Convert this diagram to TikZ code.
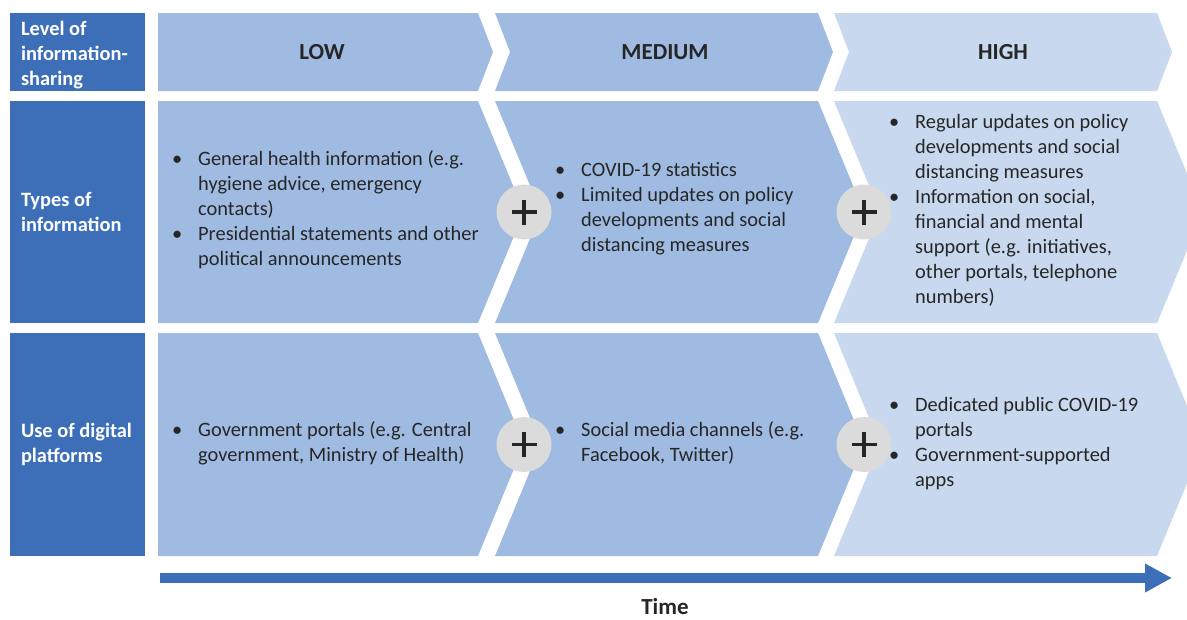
\documentclass[tikz,border=0pt]{standalone}
\usepackage{fontspec}
\setmainfont{Carlito}
\usetikzlibrary{arrows.meta}

\definecolor{cdark}{RGB}{61,111,185}
\definecolor{cmid}{RGB}{160,187,226}
\definecolor{clight}{RGB}{200,216,238}
\definecolor{cgrey}{RGB}{218,219,218}
\definecolor{ctext}{RGB}{38,38,38}

\newcommand{\blist}[1]{\begin{tabular}{@{}p{26pt}@{}l@{}}#1\end{tabular}}

\begin{document}
\begin{tikzpicture}[x=1pt,y=-1pt,
        hdr/.style={rectangle,fill=cdark,minimum width=135pt,inner sep=0pt},
        hdrtxt/.style={anchor=west,text=white,font=\fontsize{20.4}{25}\selectfont\bfseries,
          inner sep=0pt,align=left},
        lvl/.style={font=\fontsize{23}{28}\selectfont\bfseries,text=ctext,inner sep=0pt},
        txt/.style={anchor=west,font=\fontsize{20.4}{25}\selectfont,text=ctext,inner sep=0pt},
        pls/.style={circle,fill=cgrey,minimum size=55pt,inner sep=0pt},
        crs/.style={line width=3.6pt,draw=ctext}]
      \useasboundingbox (0,0) rectangle (1187,619);
      \clip (0,0) rectangle (1187,619);
      % chevrons, one row at a time
      \foreach \t/\b/\d in {13/91/15, 101/323/46, 333/556/46} {
        \fill[cmid] (158,\t) -- (478,\t) -- (478+\d,{(\t+\b)/2}) -- (478,\b) -- (158,\b) -- cycle;
        \foreach \xa/\xb/\c in {495/818/cmid, 834/1157/clight}
          \fill[\c] (\xa,\t) -- (\xb,\t) -- (\xb+\d,{(\t+\b)/2}) -- (\xb,\b) -- (\xa,\b)
            -- (\xa+\d,{(\t+\b)/2}) -- cycle;
      }
      \node[hdr,minimum height=78pt] (lvlhdr) at (77.5,52) {};
      \node[hdr,minimum height=222pt] (typhdr) at (77.5,212) {};
      \node[hdr,minimum height=223pt] (usehdr) at (77.5,444.5) {};
      \node[hdrtxt] (lvllab) at ([xshift=11pt,yshift=-3pt]lvlhdr.west) {Level of\\information-\\sharing};
      \node[hdrtxt] (typlab) at ([xshift=11pt]typhdr.west) {Types of\\information};
      \node[hdrtxt] (uselab) at ([xshift=11pt]usehdr.west) {Use of digital\\platforms};
      \foreach \x/\lab/\nm in {322/LOW/low, 665/MEDIUM/med, 1003/HIGH/high}
        \node[lvl] (\nm) at (\x,52) {\lab};
      % plus signs
      \foreach \x/\y/\nm in {524/212/pa, 864/212/pb, 524/444.5/pc, 864/444.5/pd} {
        \node[pls] (\nm) at (\x,\y) {};
        \draw[crs] ([xshift=-12.5pt]\nm.center) -- ([xshift=12.5pt]\nm.center);
        \draw[crs] ([yshift=-12.5pt]\nm.center) -- ([yshift=12.5pt]\nm.center);
      }
      \node[txt] (lowtyp) at (172,210) {\blist{\textbullet & General health information (e.g.\\
        & hygiene advice, emergency\\ & contacts)\\
        \textbullet & Presidential statements and other\\ & political announcements}};
      \node[txt] (medtyp) at (555,209) {\blist{\textbullet & COVID-19 statistics\\
        \textbullet & Limited updates on policy\\ & developments and social\\ & distancing measures}};
      \node[txt] (hightyp) at (889,211) {\blist{\textbullet & Regular updates on policy\\
        & developments and social\\ & distancing measures\\
        \textbullet & Information on social,\\ & financial and mental\\
        & support (e.g. initiatives,\\ & other portals, telephone\\ & numbers)}};
      \node[txt] (lowuse) at (172,443.5) {\blist{\textbullet & Government portals (e.g. Central\\
        & government, Ministry of Health)}};
      \node[txt] (meduse) at (555,443.5) {\blist{\textbullet & Social media channels (e.g.\\
        & Facebook, Twitter)}};
      \node[txt] (highuse) at (889,443.5) {\blist{\textbullet & Dedicated public COVID-19\\
        & portals\\ \textbullet & Government-supported\\ & apps}};
      % time axis
      \coordinate (tstart) at (160,578);
      \coordinate (tend) at (1172,578);
      \draw[cdark,line width=10pt,-{Triangle[length=27pt,width=27pt]}] (tstart) -- (tend);
      \node[lvl] (time) at (665,607) {Time};
    \end{tikzpicture}
\end{document}
